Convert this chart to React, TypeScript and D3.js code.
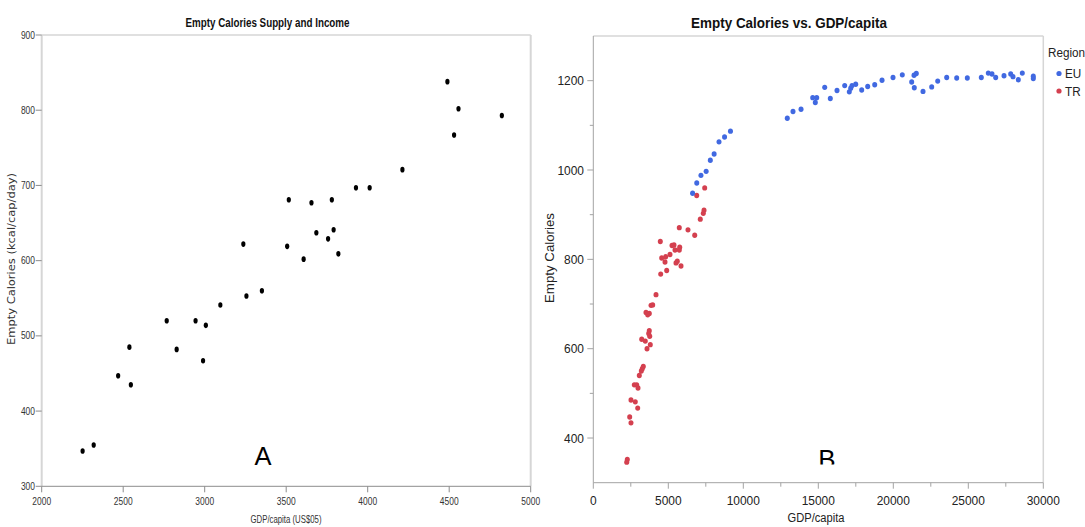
import React from "react";
import * as d3 from "d3";

// ---------- Panel A data (GDP/capita US$05 vs Empty Calories kcal/cap/day) ----------
const gdpA = [4489, 4557, 4823, 4530, 4213, 3928, 4012, 3516, 3655, 3780, 3685, 3791, 3757, 3237, 3506, 3820, 3607, 3256, 3351, 3096, 2767, 2944, 3007, 2828, 2990, 2538, 2469, 2547, 2251, 2319];
const calA = [838, 802, 793, 767, 721, 697, 697, 681, 677, 681, 637, 641, 629, 622, 619, 609, 602, 553, 560, 541, 520, 520, 514, 482, 467, 485, 447, 435, 347, 355];

// ---------- Panel B data ----------
const gdpEU = [6620, 6898, 7176, 7523, 7801, 8055, 8380, 8750, 9144, 12933, 13313, 13847, 14627, 14893, 14800, 15427, 15800, 16247, 16760, 17067, 17160, 17247, 17493, 17893, 18293, 18760, 19247, 19980, 20600, 21380, 21533, 21227, 21400, 21980, 22560, 22960, 23560, 24227, 24933, 25867, 26333, 26580, 26827, 27380, 27827, 27980, 28333, 28600, 29333, 29333];
const calEU = [948, 971, 988, 997, 1022, 1036, 1063, 1074, 1087, 1116, 1131, 1136, 1162, 1162, 1151, 1185, 1160, 1178, 1189, 1175, 1183, 1189, 1192, 1179, 1187, 1191, 1201, 1207, 1213, 1212, 1216, 1197, 1184, 1176, 1186, 1199, 1207, 1206, 1206, 1207, 1217, 1215, 1207, 1211, 1215, 1209, 1202, 1217, 1210, 1205];
const gdpTR = [7427, 6893, 7380, 7333, 7133, 5733, 6313, 6760, 4467, 5247, 5380, 5760, 5733, 5447, 5113, 4827, 4560, 4780, 5600, 5513, 5847, 4893, 4493, 4180, 3960, 3850, 3513, 3733, 3627, 3733, 3693, 3760, 3227, 3467, 3800, 3580, 3333, 3267, 3200, 3067, 2733, 2893, 2980, 2513, 2800, 2960, 2427, 2513, 2267, 2227];
const calTR = [960, 943, 910, 903, 890, 871, 866, 854, 840, 831, 832, 827, 821, 821, 811, 806, 803, 794, 796, 792, 785, 775, 767, 721, 698, 697, 681, 679, 676, 640, 634, 628, 621, 617, 609, 600, 560, 555, 550, 540, 519, 519, 512, 485, 481, 467, 447, 434, 352, 346];

// ---------- tick values ----------
const ticksAX = [2000, 2500, 3000, 3500, 4000, 4500, 5000];
const ticksAY = [300, 400, 500, 600, 700, 800, 900];
const ticksBX = [0, 5000, 10000, 15000, 20000, 25000, 30000];
const minorBX = [2500, 7500, 12500, 17500, 22500, 27500];
const ticksBY = [400, 600, 800, 1000, 1200];
const minorBY = [500, 700, 900, 1100];
const regions = ["EU", "TR"];
const regionColors = ["#4169e1", "#d4404f"];

const FONT = "'Liberation Sans', Arial, sans-serif";

function SText(props: any) {
  const { x, y, sx = 1, anchor = "start", size = 12, weight = "normal", fill = "#222", family = FONT, children } = props;
  return (
    <text
      transform={`translate(${x},${y}) scale(${sx},1)`}
      textAnchor={anchor}
      fontSize={size}
      fontWeight={weight}
      fill={fill}
      fontFamily={family}
    >
      {children}
    </text>
  );
}

export default function App() {
  // Panel A scales
  const xA = d3.scaleLinear().domain([2000, 5000]).range([41.7, 530.7]);
  const yA = d3.scaleLinear().domain([300, 900]).range([486.3, 35]);
  // Panel B scales
  const xB = d3.scaleLinear().domain([0, 30000]).range([593.3, 1043.3]);
  const yB = d3.scaleLinear().domain([300, 1300]).range([482.7, 36]);

  const axisGrey = "#a3a3a3";
  const frameGrey = "#d6d6d6";

  return (
    <svg width={1085} height={527} style={{ position: "absolute", left: 0, top: 0, background: "#fff" }}>
      <rect x={0} y={0} width={1085} height={527} fill="#fff" />
      {/* ================= Panel A ================= */}
      <g>
        <SText x={267.5} y={27} anchor="middle" size={12} weight="bold" fill="#111">
          <tspan textLength={164} lengthAdjust="spacingAndGlyphs">Empty Calories Supply and Income</tspan>
        </SText>
        {/* frame */}
        <line x1={xA(2000)} x2={xA(5000)} y1={yA(900)} y2={yA(900)} stroke={frameGrey} strokeWidth={1.5} />
        <line x1={xA(5000)} x2={xA(5000)} y1={yA(900)} y2={yA(300)} stroke={frameGrey} strokeWidth={2} />
        <line x1={xA(2000)} x2={xA(2000)} y1={yA(900)} y2={yA(300)} stroke={frameGrey} strokeWidth={2} />
        <line x1={xA(2000)} x2={xA(5000)} y1={yA(300)} y2={yA(300)} stroke="#8c8c8c" strokeWidth={1} />
        {/* y ticks */}
        {ticksAY.map((t) => (
          <g key={"ay" + t}>
            <line x1={xA(2000) - 6} x2={xA(2000)} y1={yA(t)} y2={yA(t)} stroke="#8c8c8c" />
            <SText x={35} y={yA(t) + 3.6} anchor="end" size={10.3} sx={0.82} fill="#333">
              {String(t)}
            </SText>
          </g>
        ))}
        {/* x ticks */}
        {ticksAX.map((t) => (
          <g key={"ax" + t}>
            <line x1={xA(t)} x2={xA(t)} y1={yA(300)} y2={yA(300) + 6} stroke="#8c8c8c" />
            <SText x={xA(t)} y={505} anchor="middle" size={10.3} sx={0.82} fill="#333">
              {String(t)}
            </SText>
          </g>
        ))}
        <SText x={286} y={523} anchor="middle" size={11} fill="#333">
          <tspan textLength={71} lengthAdjust="spacingAndGlyphs">GDP/capita (US$05)</tspan>
        </SText>
        <text
          transform={`translate(15,259) rotate(-90)`}
          textAnchor="middle"
          fontSize={10}
          fill="#333"
          fontFamily="'DejaVu Sans', Verdana, sans-serif"
          textLength={172}
          lengthAdjust="spacingAndGlyphs"
        >
          Empty Calories (kcal/cap/day)
        </text>
        {/* points */}
        {gdpA.map((g, i) => (
          <ellipse key={"pa" + i} cx={xA(g)} cy={yA(calA[i])} rx={2.1} ry={2.8} fill="#000" />
        ))}
        <text x={263} y={465} textAnchor="middle" fontSize={25.5} fill="#000" fontFamily={FONT}>
          A
        </text>
      </g>

      {/* ================= Panel B ================= */}
      <g>
        <SText x={789} y={28.3} anchor="middle" size={15.5} weight="bold" fill="#111">
          <tspan textLength={196} lengthAdjust="spacingAndGlyphs">Empty Calories vs. GDP/capita</tspan>
        </SText>
        <line x1={xB(0)} x2={xB(30000)} y1={yB(1300)} y2={yB(1300)} stroke={frameGrey} strokeWidth={1.5} />
        <line x1={xB(30000)} x2={xB(30000)} y1={yB(1300)} y2={yB(300)} stroke={frameGrey} strokeWidth={1.5} />
        <line x1={xB(0)} x2={xB(0)} y1={yB(1300)} y2={yB(300)} stroke={axisGrey} strokeWidth={1} />
        <line x1={xB(0)} x2={xB(30000)} y1={yB(300)} y2={yB(300)} stroke={axisGrey} strokeWidth={1} />
        {ticksBY.map((t) => (
          <g key={"by" + t}>
            <line x1={xB(0) - 6} x2={xB(0)} y1={yB(t)} y2={yB(t)} stroke={axisGrey} />
            <SText x={584} y={yB(t) + 4.6} anchor="end" size={13} sx={0.92} fill="#222">
              {String(t)}
            </SText>
          </g>
        ))}
        {minorBY.map((t) => (
          <line key={"mby" + t} x1={xB(0) - 3.5} x2={xB(0)} y1={yB(t)} y2={yB(t)} stroke={axisGrey} />
        ))}
        {ticksBX.map((t) => (
          <g key={"bx" + t}>
            <line x1={xB(t)} x2={xB(t)} y1={yB(300)} y2={yB(300) + 6} stroke={axisGrey} />
            <SText x={xB(t)} y={505} anchor="middle" size={13} sx={0.92} fill="#222">
              {String(t)}
            </SText>
          </g>
        ))}
        {minorBX.map((t) => (
          <line key={"mbx" + t} x1={xB(t)} x2={xB(t)} y1={yB(300)} y2={yB(300) + 4} stroke={axisGrey} />
        ))}
        <SText x={816} y={522} anchor="middle" size={12.5} fill="#222">
          <tspan textLength={57} lengthAdjust="spacingAndGlyphs">GDP/capita</tspan>
        </SText>
        <text
          transform={`translate(554,258) rotate(-90)`}
          textAnchor="middle"
          fontSize={12}
          fill="#222"
          fontFamily={FONT}
          textLength={90}
          lengthAdjust="spacingAndGlyphs"
        >
          Empty Calories
        </text>
        {/* points */}
        {gdpTR.map((g, i) => (
          <ellipse key={"tr" + i} cx={xB(g)} cy={yB(calTR[i])} rx={2.5} ry={2.7} fill={regionColors[1]} />
        ))}
        {gdpEU.map((g, i) => (
          <ellipse key={"eu" + i} cx={xB(g)} cy={yB(calEU[i])} rx={2.5} ry={2.7} fill={regionColors[0]} />
        ))}
        <defs>
          <clipPath id="clipB">
            <rect x={800} y={430} width={60} height={34.5} />
          </clipPath>
        </defs>
        <text x={827} y={468} textAnchor="middle" fontSize={26} fill="#000" fontFamily={FONT} clipPath="url(#clipB)">
          B
        </text>
        {/* legend */}
        <SText x={1048} y={57} size={13} sx={0.9} fill="#222">
          Region
        </SText>
        {regions.map((r, i) => (
          <g key={"lg" + r}>
            <circle cx={1059} cy={73.5 + i * 17.5} r={2.6} fill={regionColors[i]} />
            <SText x={1065} y={78 + i * 17.5} size={13} sx={0.9} fill="#222">
              {r}
            </SText>
          </g>
        ))}
      </g>
    </svg>
  );
}
